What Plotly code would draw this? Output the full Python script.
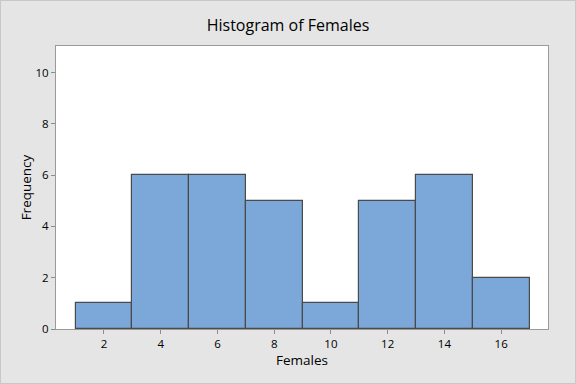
import plotly.graph_objects as go

bin_centers = [2, 4, 6, 8, 10, 12, 14, 16]
frequencies = [1, 6, 6, 5, 1, 5, 6, 2]
bin_width = 2
x_ticks = [2, 4, 6, 8, 10, 12, 14, 16]
y_ticks = [0, 2, 4, 6, 8, 10]

FONT = "Open Sans"

fig = go.Figure(go.Bar(
    x=bin_centers, y=frequencies, width=[bin_width] * len(bin_centers),
    marker=dict(color="#7BA7D9", line=dict(color="#4a4a4a", width=1.2)),
    hoverinfo="x+y",
))

fig.update_layout(
    width=576, height=384,
    paper_bgcolor="#e5e5e5", plot_bgcolor="white",
    margin=dict(l=56, r=28, t=46, b=55),
    bargap=0,
    font=dict(family=FONT, color="black", size=11),
    title=dict(text="Histogram of Females", x=0.5, xanchor="center", y=0.935, yanchor="middle",
               font=dict(family=FONT, size=16, color="black")),
    showlegend=False,
)
fig.update_xaxes(
    range=[0.31, 17.65], tickvals=x_ticks, ticks="outside", ticklen=4, tickcolor="#8c8c8c",
    showgrid=False, zeroline=False, showline=True, linecolor="#9a9a9a", linewidth=1, mirror=True,
    tickfont=dict(size=11.5),
    title=dict(text="Females", font=dict(family=FONT, size=13.5), standoff=3),
)
fig.update_yaxes(
    range=[0, 11.04], tickvals=y_ticks, ticks="outside", ticklen=4, tickcolor="#8c8c8c",
    showgrid=False, zeroline=False, showline=True, linecolor="#9a9a9a", linewidth=1, mirror=True,
    tickfont=dict(size=11.5),
    title=dict(text="Frequency", font=dict(family=FONT, size=13.5), standoff=0),
)
fig.add_shape(type="rect", xref="paper", yref="paper", x0=-56/492, x1=1+28/492, y0=-55/283, y1=1+46/283,
              line=dict(color="#c8c8c8", width=2), layer="below")

fig.write_html("out.html", config={"displayModeBar": False},
               post_script="document.body.style.margin='0';document.body.style.overflow='hidden';")
